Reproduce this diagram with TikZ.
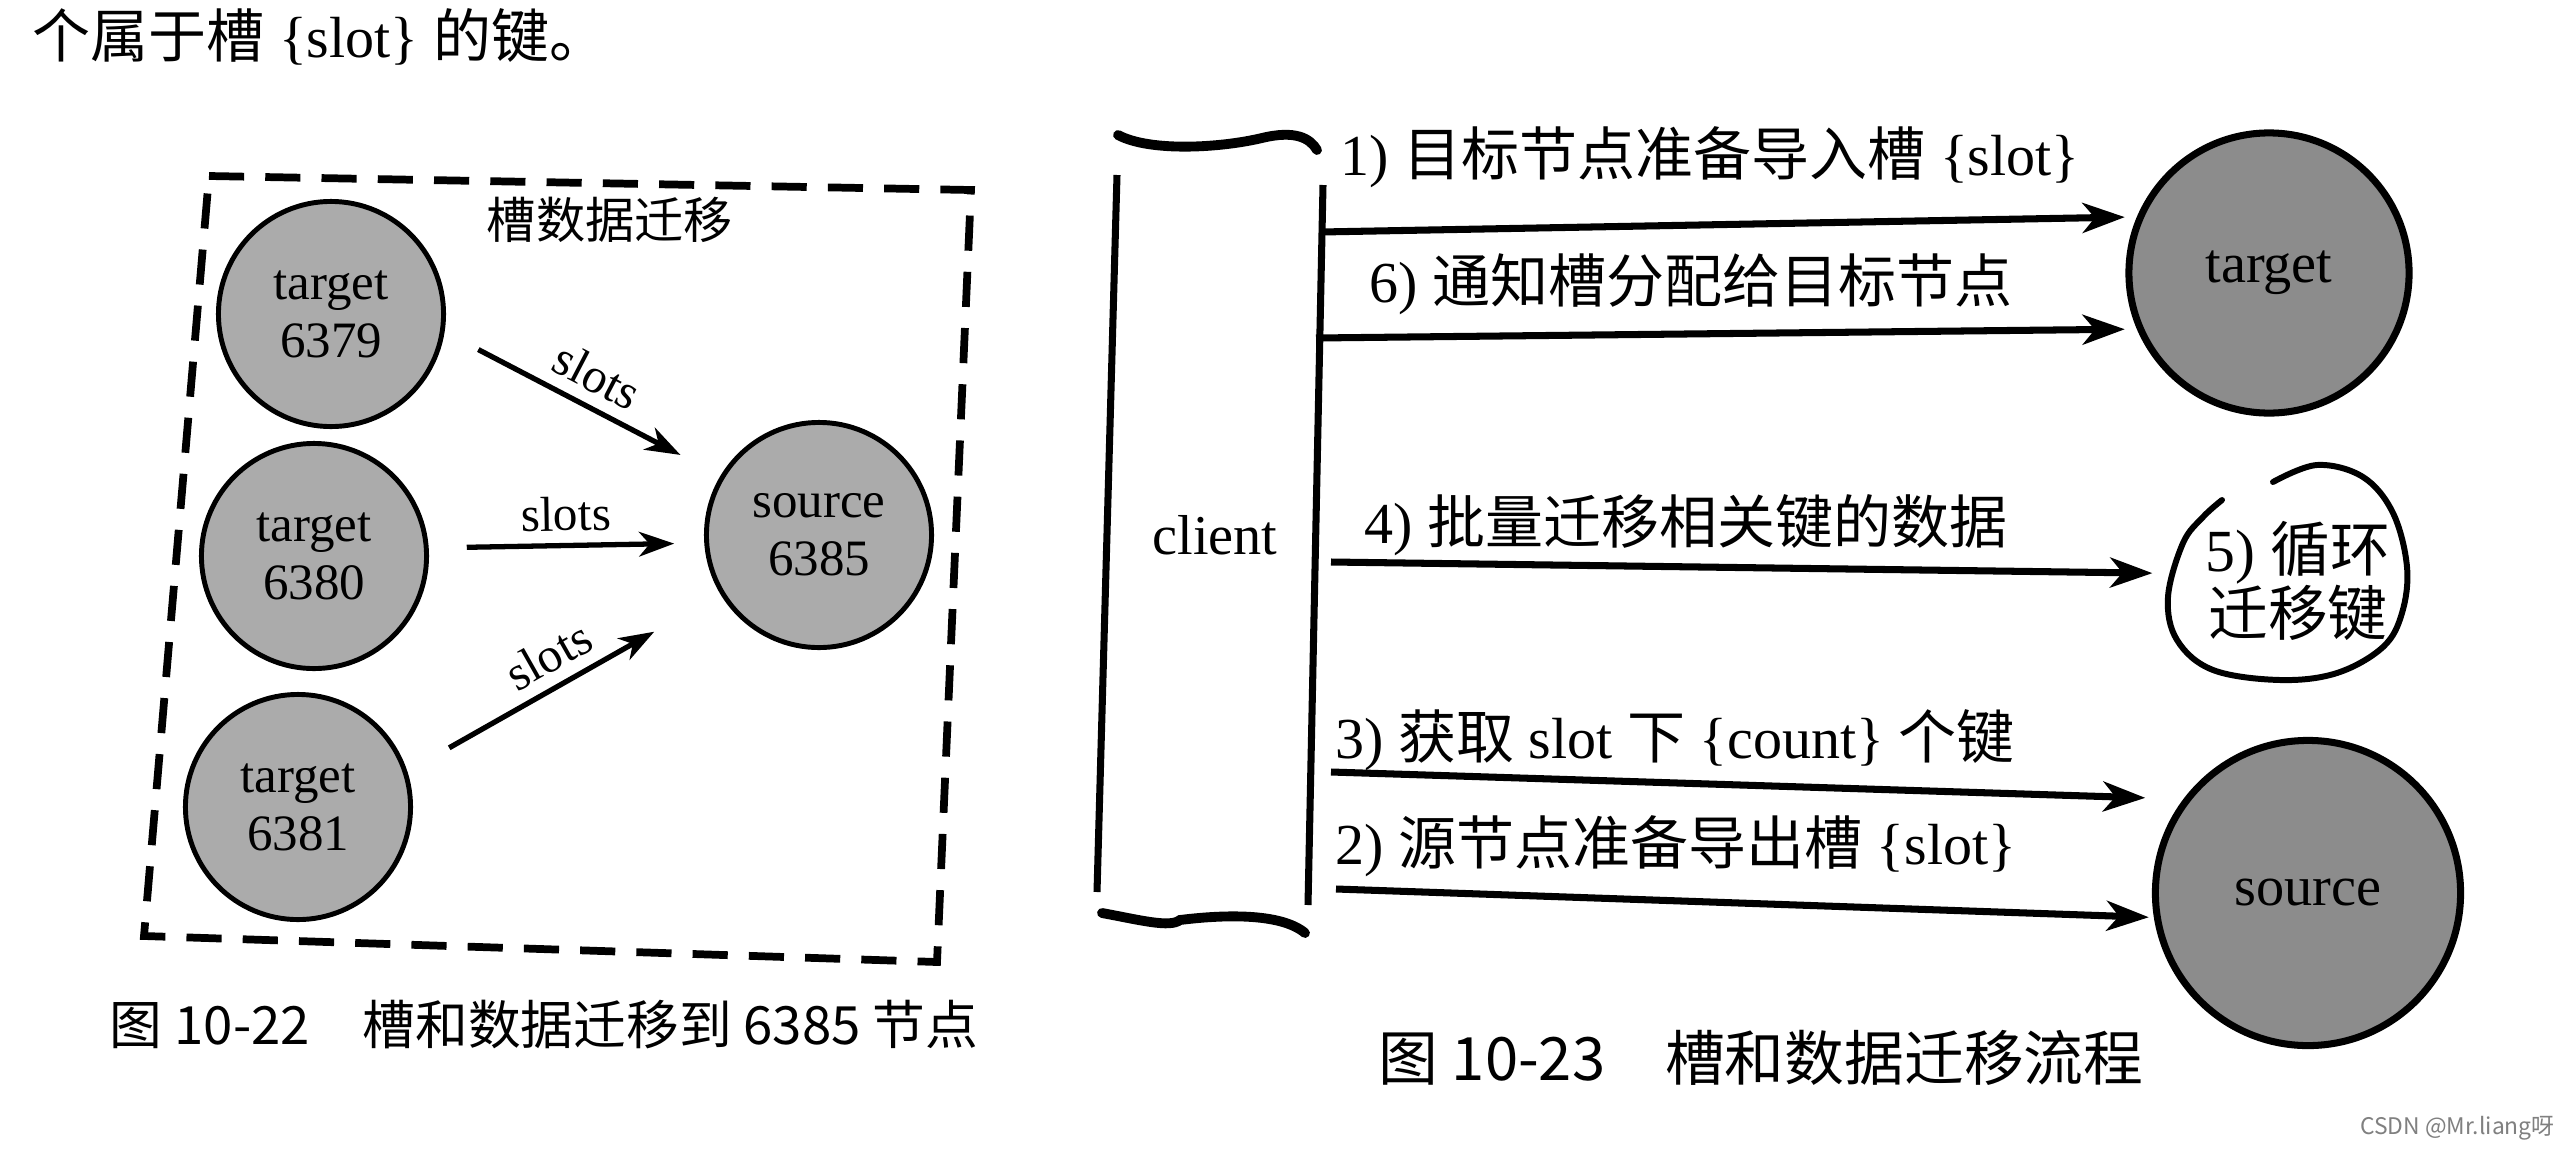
\documentclass[tikz,border=0pt]{standalone}
\usepackage{fontspec}
\setmainfont{Liberation Serif}
\newfontfamily\cjk{Noto Sans CJK SC}
\usetikzlibrary{arrows.meta}
\definecolor{nodegray}{HTML}{ABABAB}
\definecolor{nodedark}{HTML}{8C8C8C}
\newcommand{\zh}[1]{{\cjk #1}}

\begin{document}
\begin{tikzpicture}[x=0.01cm, y=-0.01cm,
    petit/.style={circle, draw, line width=1.4pt, fill=nodegray, minimum size=2.25cm,
                  inner sep=0pt, align=center, font=\fontsize{14.5}{16.5}\selectfont},
    grand/.style={circle, draw, line width=2pt, fill=nodedark, inner sep=0pt,
                  font=\fontsize{16}{18}\selectfont},
    fleche/.style={line width=1.5pt, -{Stealth[length=10pt,width=7pt,inset=3pt]}},
    flechebis/.style={line width=2pt, -{Stealth[length=12pt,width=8.5pt,inset=3.5pt]}},
    etiq/.style={anchor=west, font=\fontsize{16.5}{18}\selectfont},
    legende/.style={font=\cjk\fontsize{15}{18}\selectfont}]
                % Cadre de la page
                \fill[white] (0,0) rectangle (2572,1148);
                \useasboundingbox (0,0) rectangle (2572,1148);
                \node[anchor=west, font=\fontsize{16.5}{18}\selectfont] (entete) at (20,37) {\zh{个属于槽} \{slot\} \zh{的键。}};

                % Figure 10-22 : noeuds
                \node[petit] (t6379) at (331,314) {target\\6379};
                \node[petit] (t6380) at (314,556) {target\\6380};
                \node[petit] (t6381) at (298,807) {target\\6381};
                \node[petit] (s6385) at (819,535) {source\\6385};
                \node[font=\cjk\fontsize{14}{16}\selectfont] (titre) at (610,220) {槽数据迁移};
                \draw[line width=2.2pt, dash pattern=on 10pt off 6pt] (209,176) -- (971,190) -- (937,962) -- (144,936) -- cycle;

                % Figure 10-22 : fleches
                \draw[fleche, shorten <=0.38cm, shorten >=0.45cm] (t6379.-9) -- (s6385.149) node[midway, above, sloped, font=\fontsize{14}{15}\selectfont] {slots};
                \draw[fleche, shorten <=0.38cm, shorten >=0.3cm] (t6380.4) -- (s6385.184) node[midway, above, sloped, font=\fontsize{14}{15}\selectfont] {slots};
                \draw[fleche, shorten <=0.48cm, shorten >=0.76cm] (t6381.18) -- (s6385.211) node[midway, above, sloped, font=\fontsize{14}{15}\selectfont] {slots};

                % Figure 10-23 : client
                \node[font=\fontsize{16}{18}\selectfont] (client) at (1215,535) {client};
                \draw[line width=2pt] (1117,175) -- (1097,892);
                \draw[line width=2pt] (1323,185) -- (1308,905);
                \draw[line width=2.8pt, line cap=round] (1118,135) .. controls (1150,152) and (1220,148) .. (1262,138) .. controls (1295,130) and (1310,138) .. (1317,150);
                \draw[line width=2.8pt, line cap=round] (1102,913) .. controls (1140,920) and (1170,928) .. (1180,920) .. controls (1220,915) and (1280,912) .. (1305,933);

                % Figure 10-23 : noeuds
                \node[grand, minimum size=2.8cm] (target) at (2269,273) {target};
                \node[grand, minimum size=3.05cm] (source) at (2308,893) {source};
                \node[font=\fontsize{17}{18}\selectfont, align=center] (boucle) at (2298,581) {5) \zh{循环}\\\zh{迁移键}};
                \draw[line width=1.7pt, line cap=round] plot[smooth, tension=0.6] coordinates {(2273,482) (2317,465) (2363,477) (2393,513) (2407,567) (2402,613) (2383,647) (2337,673) (2280,680) (2213,670) (2177,640) (2168,597) (2183,543) (2203,517) (2222,500)};

                % Figure 10-23 : fleches et etiquettes
                \coordinate (d1) at (1321,232);
                \coordinate (d6) at (1316,338);
                \coordinate (d4) at (1331,562);
                \coordinate (d3) at (1331,772);
                \coordinate (d2) at (1336,889);
                \draw[flechebis, shorten >=0.12cm] (d1) -- (target.157);
                \draw[flechebis, shorten >=0.12cm] (d6) -- (target.203);
                \draw[flechebis, shorten >=0.41cm] (d4) -- (boucle.176);
                \draw[flechebis, shorten >=0.38cm] (d3) -- (source.143);
                \draw[flechebis, shorten >=0.05cm] (d2) -- (source.189);
                \node[etiq] (e1) at (1328,157) {1) \zh{目标节点准备导入槽} \{slot\}};
                \node[etiq] (e6) at (1357,284) {6) \zh{通知槽分配给目标节点}};
                \node[etiq] (e4) at (1352,525) {4) \zh{批量迁移相关键的数据}};
                \node[etiq] (e3) at (1323,740) {3) \zh{获取} slot \zh{下} \{count\} \zh{个键}};
                \node[etiq] (e2) at (1323,846) {2) \zh{源节点准备导出槽} \{slot\}};

                % Legendes
                \node[legende] (leg1) at (544,1025) {图 10-22\quad 槽和数据迁移到 6385 节点};
                \node[legende, font=\cjk\fontsize{17}{20}\selectfont] (leg2) at (1761,1058) {图 10-23\quad 槽和数据迁移流程};
                \node[anchor=east, font=\cjk\fontsize{6.5}{8}\selectfont, text=gray] (filigrane) at (2567,1128) {CSDN @Mr.liang呀};
            \end{tikzpicture}
\end{document}
